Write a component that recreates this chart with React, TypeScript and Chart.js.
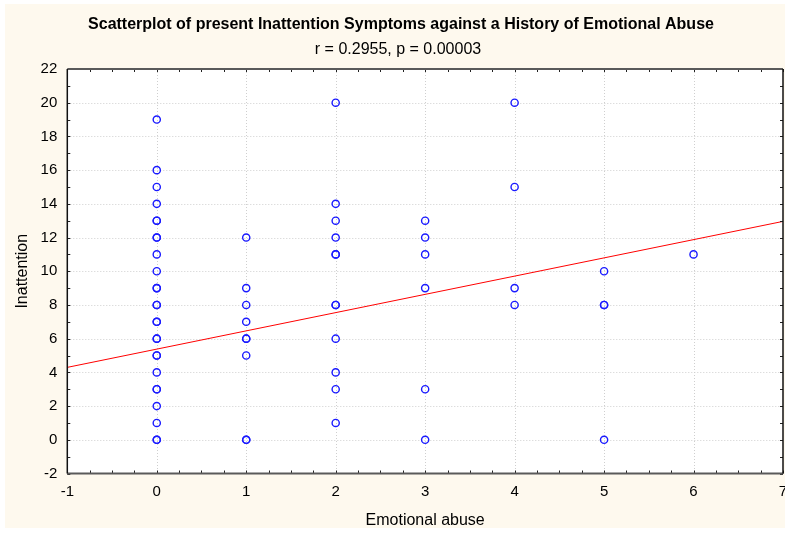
import React, { useEffect, useRef } from "react";
import { Chart, registerables } from "chart.js";

Chart.register(...registerables);

const chartTitle = "Scatterplot of present Inattention Symptoms against a History of Emotional Abuse";
const chartSubtitle = "r = 0.2955, p = 0.00003";
const xAxisTitle = "Emotional abuse";
const yAxisTitle = "Inattention";

// Emotional abuse score (x) -> Inattention scores (y); repeated values are overlapping cases
const abuseLevels = [0, 1, 2, 3, 4, 5, 6];
const inattentionAt0 = [0, 0, 1, 2, 3, 3, 4, 5, 5, 6, 6, 7, 7, 8, 8, 9, 9, 10, 11, 12, 12, 13, 13, 14, 15, 16, 19];
const inattentionAt1 = [0, 0, 5, 6, 6, 7, 8, 9, 12];
const inattentionAt2 = [1, 3, 4, 6, 8, 8, 11, 11, 12, 13, 14, 20];
const inattentionAt3 = [0, 3, 9, 11, 12, 13];
const inattentionAt4 = [8, 9, 15, 20];
const inattentionAt5 = [0, 8, 8, 10];
const inattentionAt6 = [11];
const inattentionByLevel = [
  inattentionAt0, inattentionAt1, inattentionAt2, inattentionAt3,
  inattentionAt4, inattentionAt5, inattentionAt6,
];

// Linear fit
const fitIntercept = 5.38;
const fitSlope = 1.0825;

const xMin = -1, xMax = 7, xStep = 1;
const yMin = -2, yMax = 22, yStep = 2;

const FONT = "'Liberation Sans', Arial, sans-serif";

export default function App() {
  const ref = useRef<HTMLCanvasElement | null>(null);

  useEffect(() => {
    const canvas = ref.current!;
    const points: { x: number; y: number }[] = [];
    abuseLevels.forEach((lv, i) => inattentionByLevel[i].forEach((v) => points.push({ x: lv, y: v })));
    const fitLine = [
      { x: xMin, y: fitIntercept + fitSlope * xMin },
      { x: xMax, y: fitIntercept + fitSlope * xMax },
    ];

    const decor = {
      id: "decor",
      beforeDraw(chart: any) {
        const ctx = chart.ctx;
        const { width, height } = chart;
        const a = chart.chartArea;
        ctx.save();
        ctx.fillStyle = "#ffffff";
        ctx.fillRect(0, 0, width, height);
        ctx.fillStyle = "#fef9ee";
        ctx.fillRect(5, 4, width - 5, 524);
        ctx.fillStyle = "#ffffff";
        ctx.fillRect(a.left, a.top, a.right - a.left, a.bottom - a.top);
        // grid
        const xs = chart.scales.x, ys = chart.scales.y;
        ctx.strokeStyle = "#cfcfcf";
        ctx.lineWidth = 1;
        ctx.setLineDash([1, 2]);
        for (let v = xMin + xStep; v < xMax; v += xStep) {
          const px = Math.round(xs.getPixelForValue(v)) + 0.5;
          ctx.beginPath(); ctx.moveTo(px, a.top); ctx.lineTo(px, a.bottom); ctx.stroke();
        }
        for (let v = yMin + yStep; v < yMax; v += yStep) {
          const py = Math.round(ys.getPixelForValue(v)) + 0.5;
          ctx.beginPath(); ctx.moveTo(a.left, py); ctx.lineTo(a.right, py); ctx.stroke();
        }
        ctx.setLineDash([]);
        // titles
        ctx.fillStyle = "#000";
        ctx.textAlign = "center";
        ctx.textBaseline = "alphabetic";
        ctx.font = `bold 16px ${FONT}`;
        ctx.fillText(chartTitle, 401, 29);
        ctx.font = `16px ${FONT}`;
        ctx.fillText(chartSubtitle, 398, 54);
        ctx.fillText(xAxisTitle, (a.left + a.right) / 2, 525);
        ctx.save();
        ctx.translate(23, (a.top + a.bottom) / 2);
        ctx.rotate(-Math.PI / 2);
        ctx.textBaseline = "middle";
        ctx.fillText(yAxisTitle, 0, 0);
        ctx.restore();
        ctx.restore();
      },
      afterDatasetsDraw(chart: any) {
        const ctx = chart.ctx;
        const a = chart.chartArea;
        const xs = chart.scales.x, ys = chart.scales.y;
        ctx.save();
        ctx.strokeStyle = "#222";
        ctx.lineWidth = 1;
        // minor / major ticks inward
        for (let v = xMin; v <= xMax + 1e-9; v += 0.25) {
          const px = Math.round(xs.getPixelForValue(v)) + 0.5;
          ctx.beginPath(); ctx.moveTo(px, a.bottom); ctx.lineTo(px, a.bottom - 3); ctx.stroke();
          ctx.beginPath(); ctx.moveTo(px, a.top); ctx.lineTo(px, a.top + 3); ctx.stroke();
        }
        for (let v = yMin; v <= yMax + 1e-9; v += 1) {
          const py = Math.round(ys.getPixelForValue(v)) + 0.5;
          ctx.beginPath(); ctx.moveTo(a.left, py); ctx.lineTo(a.left + 3, py); ctx.stroke();
          ctx.beginPath(); ctx.moveTo(a.right, py); ctx.lineTo(a.right - 3, py); ctx.stroke();
        }
        // frame
        ctx.strokeStyle = "#5a5a5a";
        ctx.lineWidth = 2;
        ctx.beginPath(); ctx.moveTo(a.left, a.top); ctx.lineTo(a.right, a.top); ctx.stroke();
        ctx.beginPath(); ctx.moveTo(a.left, a.bottom); ctx.lineTo(a.right, a.bottom); ctx.stroke();
        ctx.strokeStyle = "#111";
        ctx.lineWidth = 1.5;
        ctx.beginPath(); ctx.moveTo(a.left, a.top); ctx.lineTo(a.left, a.bottom); ctx.stroke();
        ctx.beginPath(); ctx.moveTo(a.right, a.top); ctx.lineTo(a.right, a.bottom); ctx.stroke();
        ctx.restore();
      },
    };

    const chart = new Chart(canvas, {
      type: "scatter",
      data: {
        datasets: [
          {
            type: "line",
            data: fitLine,
            borderColor: "#ff0000",
            borderWidth: 1,
            pointRadius: 0,
            fill: false,
          } as any,
          {
            data: points,
            pointStyle: "circle",
            pointRadius: 3.6,
            pointBorderWidth: 1.4,
            pointBorderColor: "#1a1aff",
            pointBackgroundColor: "rgba(0,0,0,0)",
          },
        ],
      },
      options: {
        responsive: false,
        animation: false,
        events: [],
        layout: { autoPadding: false, padding: { top: 69, right: 2, left: 0, bottom: 0 } },
        plugins: { legend: { display: false }, tooltip: { enabled: false }, title: { display: false } },
        scales: {
          x: {
            type: "linear",
            min: xMin,
            max: xMax,
            grid: { display: false, drawTicks: false },
            border: { display: false },
            ticks: { stepSize: xStep, padding: 9, color: "#000", font: { family: FONT, size: 15 } },
            afterFit: (s: any) => { s.height = 59.5; s.paddingLeft = 0; s.paddingRight = 0; },
          },
          y: {
            type: "linear",
            min: yMin,
            max: yMax,
            grid: { display: false, drawTicks: false },
            border: { display: false },
            ticks: { stepSize: yStep, padding: 10, color: "#000", font: { family: FONT, size: 15 } },
            afterFit: (s: any) => { s.width = 67.3; s.paddingTop = 0; s.paddingBottom = 0; },
          },
        },
      },
      plugins: [decor],
    });
    return () => chart.destroy();
  }, []);

  return (
    <div style={{ position: "absolute", left: 0, top: 0, width: 785, height: 533 }}>
      <canvas ref={ref} width={785} height={533} style={{ display: "block" }} />
    </div>
  );
}
